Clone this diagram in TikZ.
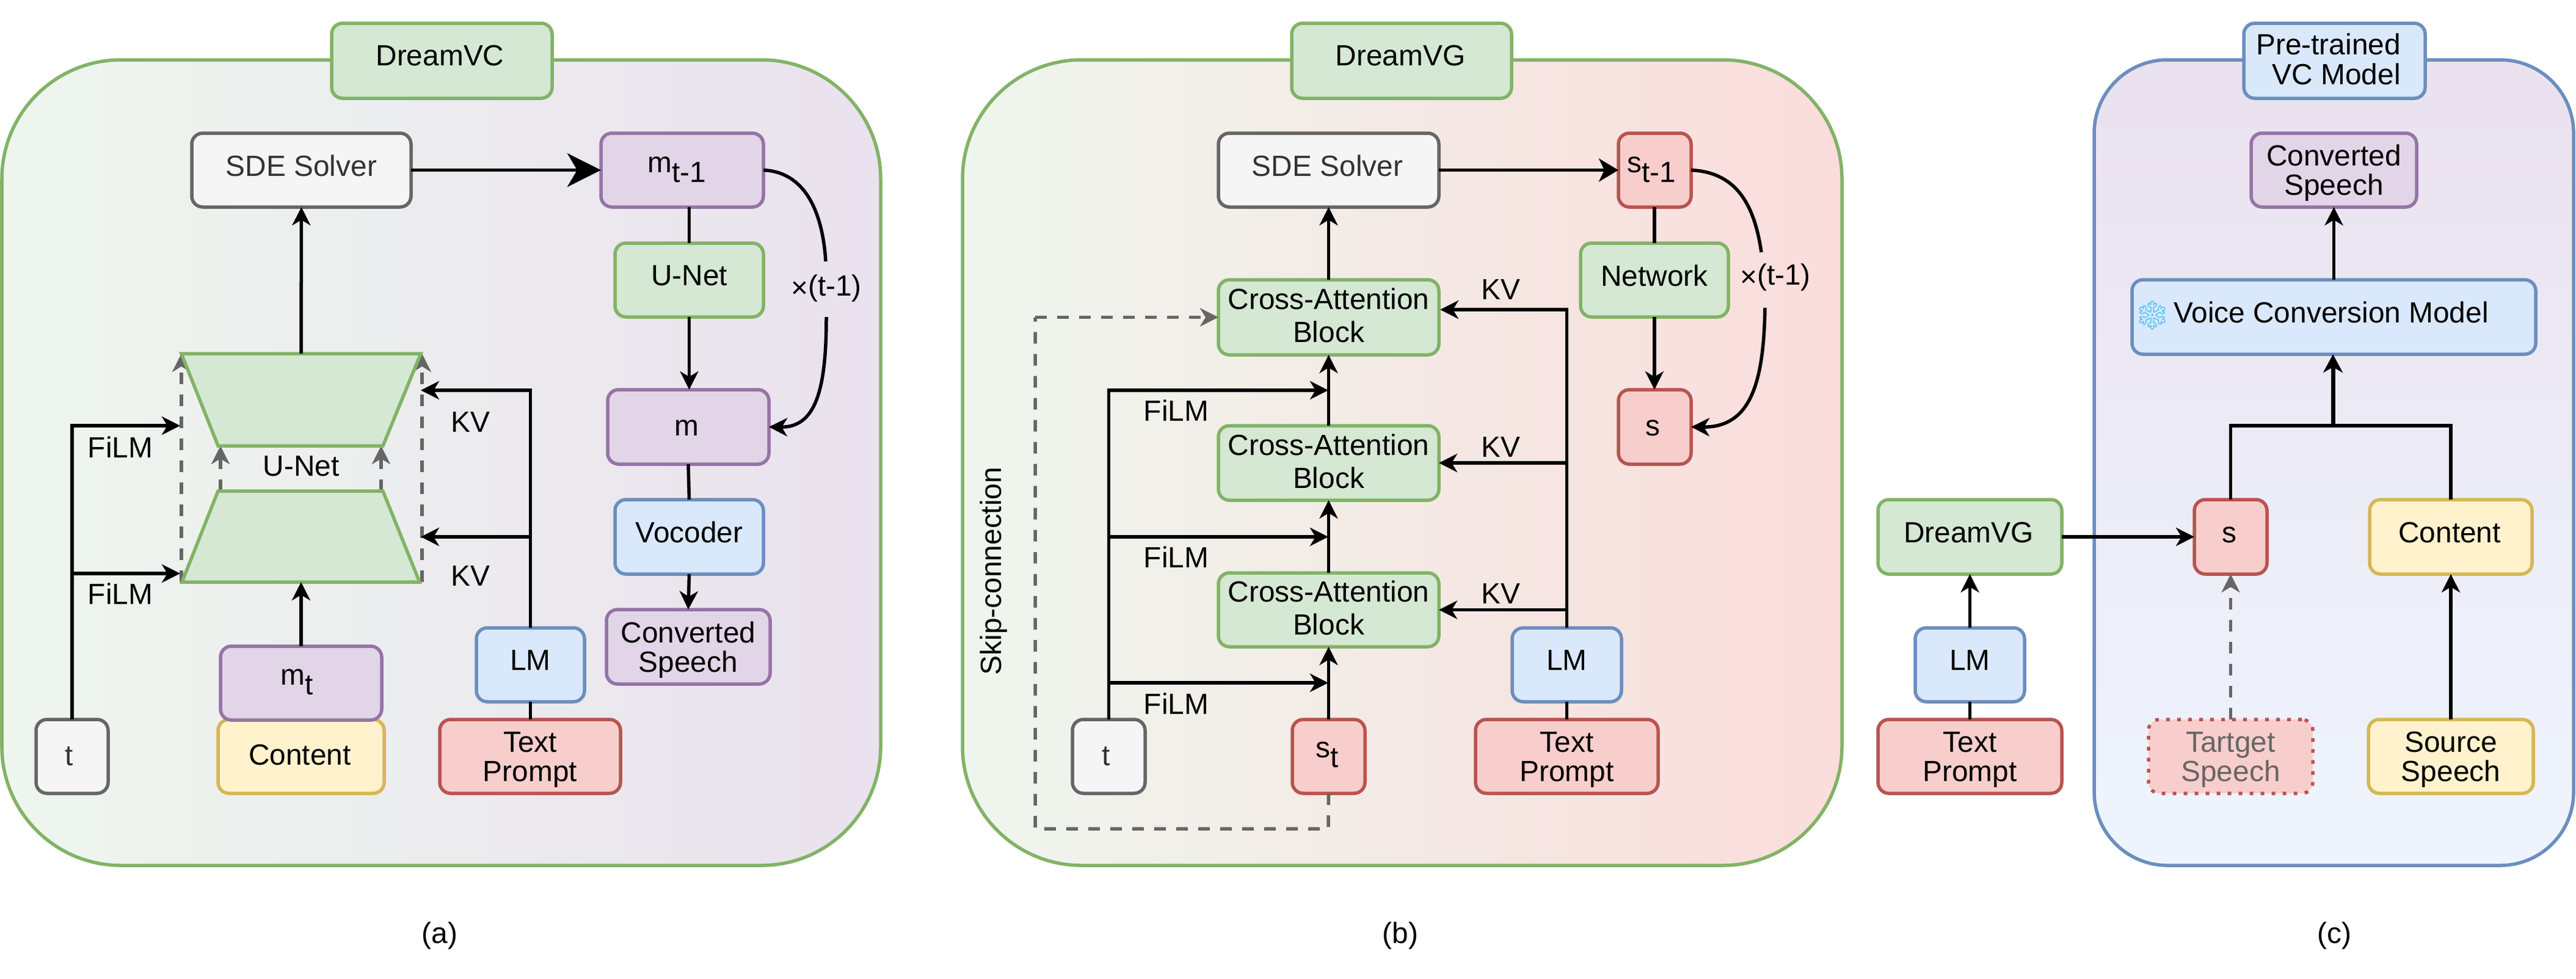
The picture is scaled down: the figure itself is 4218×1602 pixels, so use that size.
\documentclass[tikz,border=0pt]{standalone}
\usepackage{fontspec}
\setmainfont{Liberation Sans}
\newfontfamily\emojifont{Noto Emoji}
\usetikzlibrary{arrows.meta,calc}
\newlength{\px}\setlength{\px}{0.01cm}
\newcommand{\bl}[3][0]{\raisebox{-#2\px}[0pt][0pt]{\hspace*{#1\px}#3}}
\newcommand{\drop}[1]{\raisebox{-16\px}{#1}}
\newcommand{\tl}{\rule{0pt}{44\px}}
\newcommand{\bx}[7]{\node[#2,minimum width=(#5-#3)*\px,minimum height=(#6-#4)*\px] (#1) at ({(#3+#5)/2},{(#4+#6)/2}) {#7};}
\definecolor{gF}{HTML}{D5E8D4}\definecolor{gD}{HTML}{82B366}
\definecolor{pF}{HTML}{E1D5E7}\definecolor{pD}{HTML}{9673A6}
\definecolor{kF}{HTML}{F5F5F5}\definecolor{kD}{HTML}{666666}
\definecolor{bF}{HTML}{DAE8FC}\definecolor{bD}{HTML}{6C8EBF}
\definecolor{yF}{HTML}{FFF2CC}\definecolor{yD}{HTML}{D6B656}
\definecolor{rF}{HTML}{F8CECC}\definecolor{rD}{HTML}{B85450}
\definecolor{snowc}{HTML}{5CC6F5}
\tikzset{
  box/.style={draw,rectangle,line width=5.5\px,rounded corners=18\px,inner sep=0pt,outer sep=0pt,align=center},
  greenbox/.style={box,fill=gF,draw=gD},
  purplebox/.style={box,fill=pF,draw=pD},
  graybox/.style={box,fill=kF,draw=kD,text=black!80},
  bluebox/.style={box,fill=bF,draw=bD},
  yellowbox/.style={box,fill=yF,draw=yD},
  redbox/.style={box,fill=rF,draw=rD},
  dottedbox/.style={box,fill=rF,draw=rD,dash pattern=on 1.7pt off 3.42pt,text=kD},
  panel/.style={draw,rectangle,line width=5.5\px,inner sep=0pt,outer sep=0pt},
  conn/.style={line width=5.5\px,draw=black},
  arr/.style={conn,-{Stealth[length=8.54pt,width=8.54pt,inset=2.56pt]}},
  bigarr/.style={conn,-{Stealth[length=15.65pt,width=15.65pt,inset=4.55pt]}},
  medarr/.style={conn,-{Stealth[length=9.1pt,width=10.8pt,inset=2.56pt]}},
  thickarr/.style={line width=7\px,draw=black,-{Stealth[length=8.54pt,width=9.1pt,inset=2.56pt]}},
  dasharr/.style={line width=5.5\px,draw=kD,dash pattern=on 5.4pt off 4.84pt,-{Stealth[length=8.54pt,width=8.54pt,inset=2.56pt]}},
  dashline/.style={line width=5.5\px,draw=kD,dash pattern=on 5.4pt off 4.84pt},
  lab/.style={inner sep=0pt,outer sep=0pt},
  trap/.style={fill=gF,draw=gD,line width=5.5\px,line join=miter},
}
\begin{document}
\begin{tikzpicture}[x=1\px,y=-1\px,font=\fontsize{13.6pt}{13.66pt}\selectfont]
\useasboundingbox (0,0) rectangle (4218,1602);

% ---------- panels
\node[panel,draw=gD,left color=gF!40!white,right color=pF!70!white,rounded corners=195\px,minimum width=1439*\px,minimum height=1319*\px] (pa) at (722.5,757.5) {};
\node[panel,draw=gD,left color=gF!40!white,right color=rF!70!white,rounded corners=195\px,minimum width=1440*\px,minimum height=1319*\px] (pb) at (2296,757.5) {};
\node[panel,draw=bD,top color=pF!70!white,bottom color=bF!45!white,rounded corners=120\px,minimum width=785*\px,minimum height=1319*\px] (pc) at (3821.5,757.5) {};

% ---------- panel (a)
\bx{titleA}{greenbox}{543}{38}{904}{161}{\bl[-6]{8}{DreamVC}}
\bx{sdeA}{graybox}{314}{218}{673}{339}{\bl{9.5}{SDE Solver}}
\bx{mprev}{purplebox}{984}{218}{1250}{339}{\bl[-17]{4}{m\drop{t-1}}}
\bx{unetA}{greenbox}{1007}{398}{1250}{519}{\bl{8.5}{U-Net}}
\bx{mout}{purplebox}{995}{638}{1259}{760}{\bl[-6]{14}{m}}
\bx{voc}{bluebox}{1007}{818}{1250}{940}{\bl{9}{Vocoder}}
\bx{convA}{purplebox}{993}{998}{1261}{1120}{\tl Converted\\Speech}
\bx{lmA}{bluebox}{780}{1028}{957}{1149}{\bl{8.5}{LM}}
\bx{tpA}{redbox}{720}{1178}{1016}{1299}{\tl Text\\Prompt}
\bx{contA}{yellowbox}{357}{1178}{629}{1299}{\bl[-4]{14}{Content}}
\bx{mt}{purplebox}{361}{1058}{625}{1179}{\bl[-14]{3}{m\drop{t}}}
\bx{tA}{graybox}{59}{1178}{177}{1299}{\bl[-10]{15}{t}}

\coordinate (ut1) at (493,579);
\coordinate (ut2) at (297,579);
\coordinate (ut3) at (691,579);
\coordinate (ub1) at (493,953);
\coordinate (dl1) at (297,953);
\coordinate (dr1) at (691,953);
\coordinate (il1) at (361,804);
\coordinate (il2) at (361,730);
\coordinate (ir1) at (624,804);
\coordinate (ir2) at (624,730);
\coordinate (fa1) at (295,697);
\coordinate (fa2) at (295,939);
\coordinate (ka1) at (689,639);
\coordinate (ka2) at (689,879);

\draw[dasharr] (dl1) -- (ut2);
\draw[dasharr] (dr1) -- (ut3);
\draw[dasharr] (il1) -- (il2);
\draw[dasharr] (ir1) -- (ir2);

\draw[arr] (tA.north) |- (fa1);
\draw[arr] (tA.north |- fa2) -- (fa2);

\draw[trap] (297,579) -- (689,579) -- (627,730) -- (357,730) -- cycle;
\draw[trap] (357,804) -- (627,804) -- (687,953) -- (298,953) -- cycle;

\draw[arr] (ut1) -- (sdeA.south);
\draw[arr] (mt.north) -- (ub1);
\draw[bigarr] (sdeA.east) -- (mprev.west);
\draw[conn] (unetA.north |- mprev.south) -- (unetA.north);
\draw[arr] (unetA.south) -- (unetA.south |- mout.north);
\draw[conn] (mout.south) -- (voc.north);
\draw[arr] (voc.south) -- (convA.north);
\draw[conn] (lmA.south) -- (lmA.south |- tpA.north);
\draw[arr] (lmA.north) |- (ka1);
\draw[arr] (lmA.north |- ka2) -- (ka2);

\node[lab] (xa) at (1353,472) {\raisebox{-3\px}{×}(t-1)};
\coordinate (xat) at (1352,428);
\coordinate (xab) at (1353,519);
\draw[conn] (mprev.east) .. controls (1325,282) and (1348,360) .. (xat);
\draw[arr] (xab) .. controls (1353,640) and (1335,700) .. (mout.east);

\node[lab] (lunet) at (493,763) {U-Net};
\node[lab] (lf1) at (197,732) {FiLM};
\node[lab] (lf2) at (197,972) {FiLM};
\node[lab] (lk1) at (770,691) {KV};
\node[lab] (lk2) at (770,943) {KV};
\node[lab] (capa) at (720,1532) {(a)};

% ---------- panel (b)
\bx{titleB}{greenbox}{2115}{38}{2475}{161}{\bl[-4]{8}{DreamVG}}
\bx{sdeB}{graybox}{1995}{218}{2356}{339}{\bl[-4]{9.5}{SDE Solver}}
\bx{sprev}{redbox}{2650}{218}{2769}{339}{\bl[-10]{4}{s\drop{t-1}}}
\bx{netw}{greenbox}{2588}{398}{2830}{519}{\bl{9.5}{Network}}
\bx{sout}{redbox}{2650}{638}{2769}{760}{\bl[-6]{14}{s}}
\bx{caa}{greenbox}{1995}{458}{2356}{581}{Cross-Attention\\[6\px]Block\rule[-6\px]{0pt}{0pt}}
\bx{cab}{greenbox}{1995}{697}{2356}{819}{Cross-Attention\\[6\px]Block\rule[-6\px]{0pt}{0pt}}
\bx{cac}{greenbox}{1995}{938}{2356}{1059}{Cross-Attention\\[6\px]Block\rule[-6\px]{0pt}{0pt}}
\bx{tB}{graybox}{1756}{1178}{1875}{1299}{\bl[-8]{15}{t}}
\bx{st}{redbox}{2116}{1178}{2235}{1299}{\bl[-4]{2}{s\drop{t}}}
\bx{lmB}{bluebox}{2476}{1028}{2655}{1149}{\bl{8.5}{LM}}
\bx{tpB}{redbox}{2416}{1178}{2715}{1299}{\tl Text\\Prompt}

\coordinate (fb1) at (2175,639);
\coordinate (fb2) at (2175,879);
\coordinate (fb3) at (2175,1118);
\coordinate (kb1) at (2358,507);
\coordinate (sk1) at (2175,1357);
\coordinate (sk2) at (1695,1357);
\coordinate (sk3) at (1695,519.5);

\draw[arr] (caa.north) -- (sdeB.south);
\draw[arr] (cab.north) -- (caa.south);
\draw[arr] (cac.north) -- (cab.south);
\draw[arr] (st.north) -- (cac.south);
\draw[medarr] (sdeB.east) -- (sprev.west);
\draw[conn] (sprev.south -| netw.north) -- (netw.north);
\draw[arr] (netw.south) -- (netw.south |- sout.north);
\draw[conn] (lmB.south) -- (lmB.south |- tpB.north);
\draw[arr] (tB.north) |- (fb1);
\draw[arr] (tB.north |- fb2) -- (fb2);
\draw[arr] (tB.north |- fb3) -- (fb3);
\draw[arr] (lmB.north) |- (kb1);
\draw[arr] (lmB.north |- cab.east) -- (cab.east);
\draw[arr] (lmB.north |- cac.east) -- (cac.east);
\draw[dashline] (st.south) -- (sk1) -- (sk2) -- (sk3);
\draw[dasharr] (sk3) -- (caa.west);

\node[lab] (xb) at (2907,454) {\raisebox{-3\px}{×}(t-1)};
\coordinate (xbt) at (2884,413);
\coordinate (xbb) at (2890,504);
\draw[conn] (sprev.east) .. controls (2840,282) and (2872,330) .. (xbt);
\draw[arr] (xbb) .. controls (2888,630) and (2865,700) .. (sout.east);

\node[lab] (lfb1) at (1926,672) {FiLM};
\node[lab] (lfb2) at (1926,912) {FiLM};
\node[lab] (lfb3) at (1926,1152) {FiLM};
\node[lab] (lkb1) at (2457,474) {KV};
\node[lab] (lkb2) at (2457,732) {KV};
\node[lab] (lkb3) at (2457,972) {KV};
\node[lab,rotate=90] (lskip) at (1627,935) {Skip-connection};
\node[lab] (capb) at (2293,1532) {(b)};

% ---------- panel (c)
\bx{titleC}{bluebox}{3674}{38}{3971}{161}{\begin{tabular}{@{}r@{}}\tl Pre-trained\\VC Model\end{tabular}\hspace*{20\px}}
\bx{convC}{purplebox}{3686}{218}{3957}{339}{\tl Converted\\Speech}
\bx{vcm}{bluebox}{3491}{458}{4152}{580}{\bl[-9]{9}{Voice Conversion Model}}
\bx{sC}{redbox}{3593}{818}{3712}{940}{\bl[-5]{9}{s}}
\bx{contC}{yellowbox}{3880}{818}{4146}{940}{\bl[-4]{9}{Content}}
\bx{tgt}{dottedbox}{3518}{1178}{3787}{1299}{\tl Tartget\\Speech}
\bx{src}{yellowbox}{3878}{1178}{4148}{1299}{\tl Source\\Speech}
\bx{dvg}{greenbox}{3075}{818}{3376}{940}{\bl[-4]{9}{DreamVG}}
\bx{lmC}{bluebox}{3136}{1028}{3315}{1149}{\bl{8.5}{LM}}
\bx{tpC}{redbox}{3075}{1178}{3376}{1299}{\tl Text\\Prompt}
\node[lab,text=snowc,font=\emojifont\fontsize{13.5pt}{13.66pt}\selectfont] (snow) at (3525,516) {❄};

\coordinate (jc) at (3820,697);
\draw[arr] (vcm.north -| convC.south) -- (convC.south);
\draw[thickarr] (jc) -- (jc |- vcm.south);
\draw[conn] (sC.north) |- (jc);
\draw[conn] (contC.north) |- (jc);
\draw[arr] (src.north) -- (contC.south);
\draw[dasharr] (tgt.north -| sC.south) -- (sC.south);
\draw[arr] (dvg.east) -- (sC.west);
\draw[arr] (lmC.north) -- (dvg.south);
\draw[conn] (lmC.south) -- (tpC.north);
\node[lab] (capc) at (3822,1532) {(c)};
\end{tikzpicture}
\end{document}
